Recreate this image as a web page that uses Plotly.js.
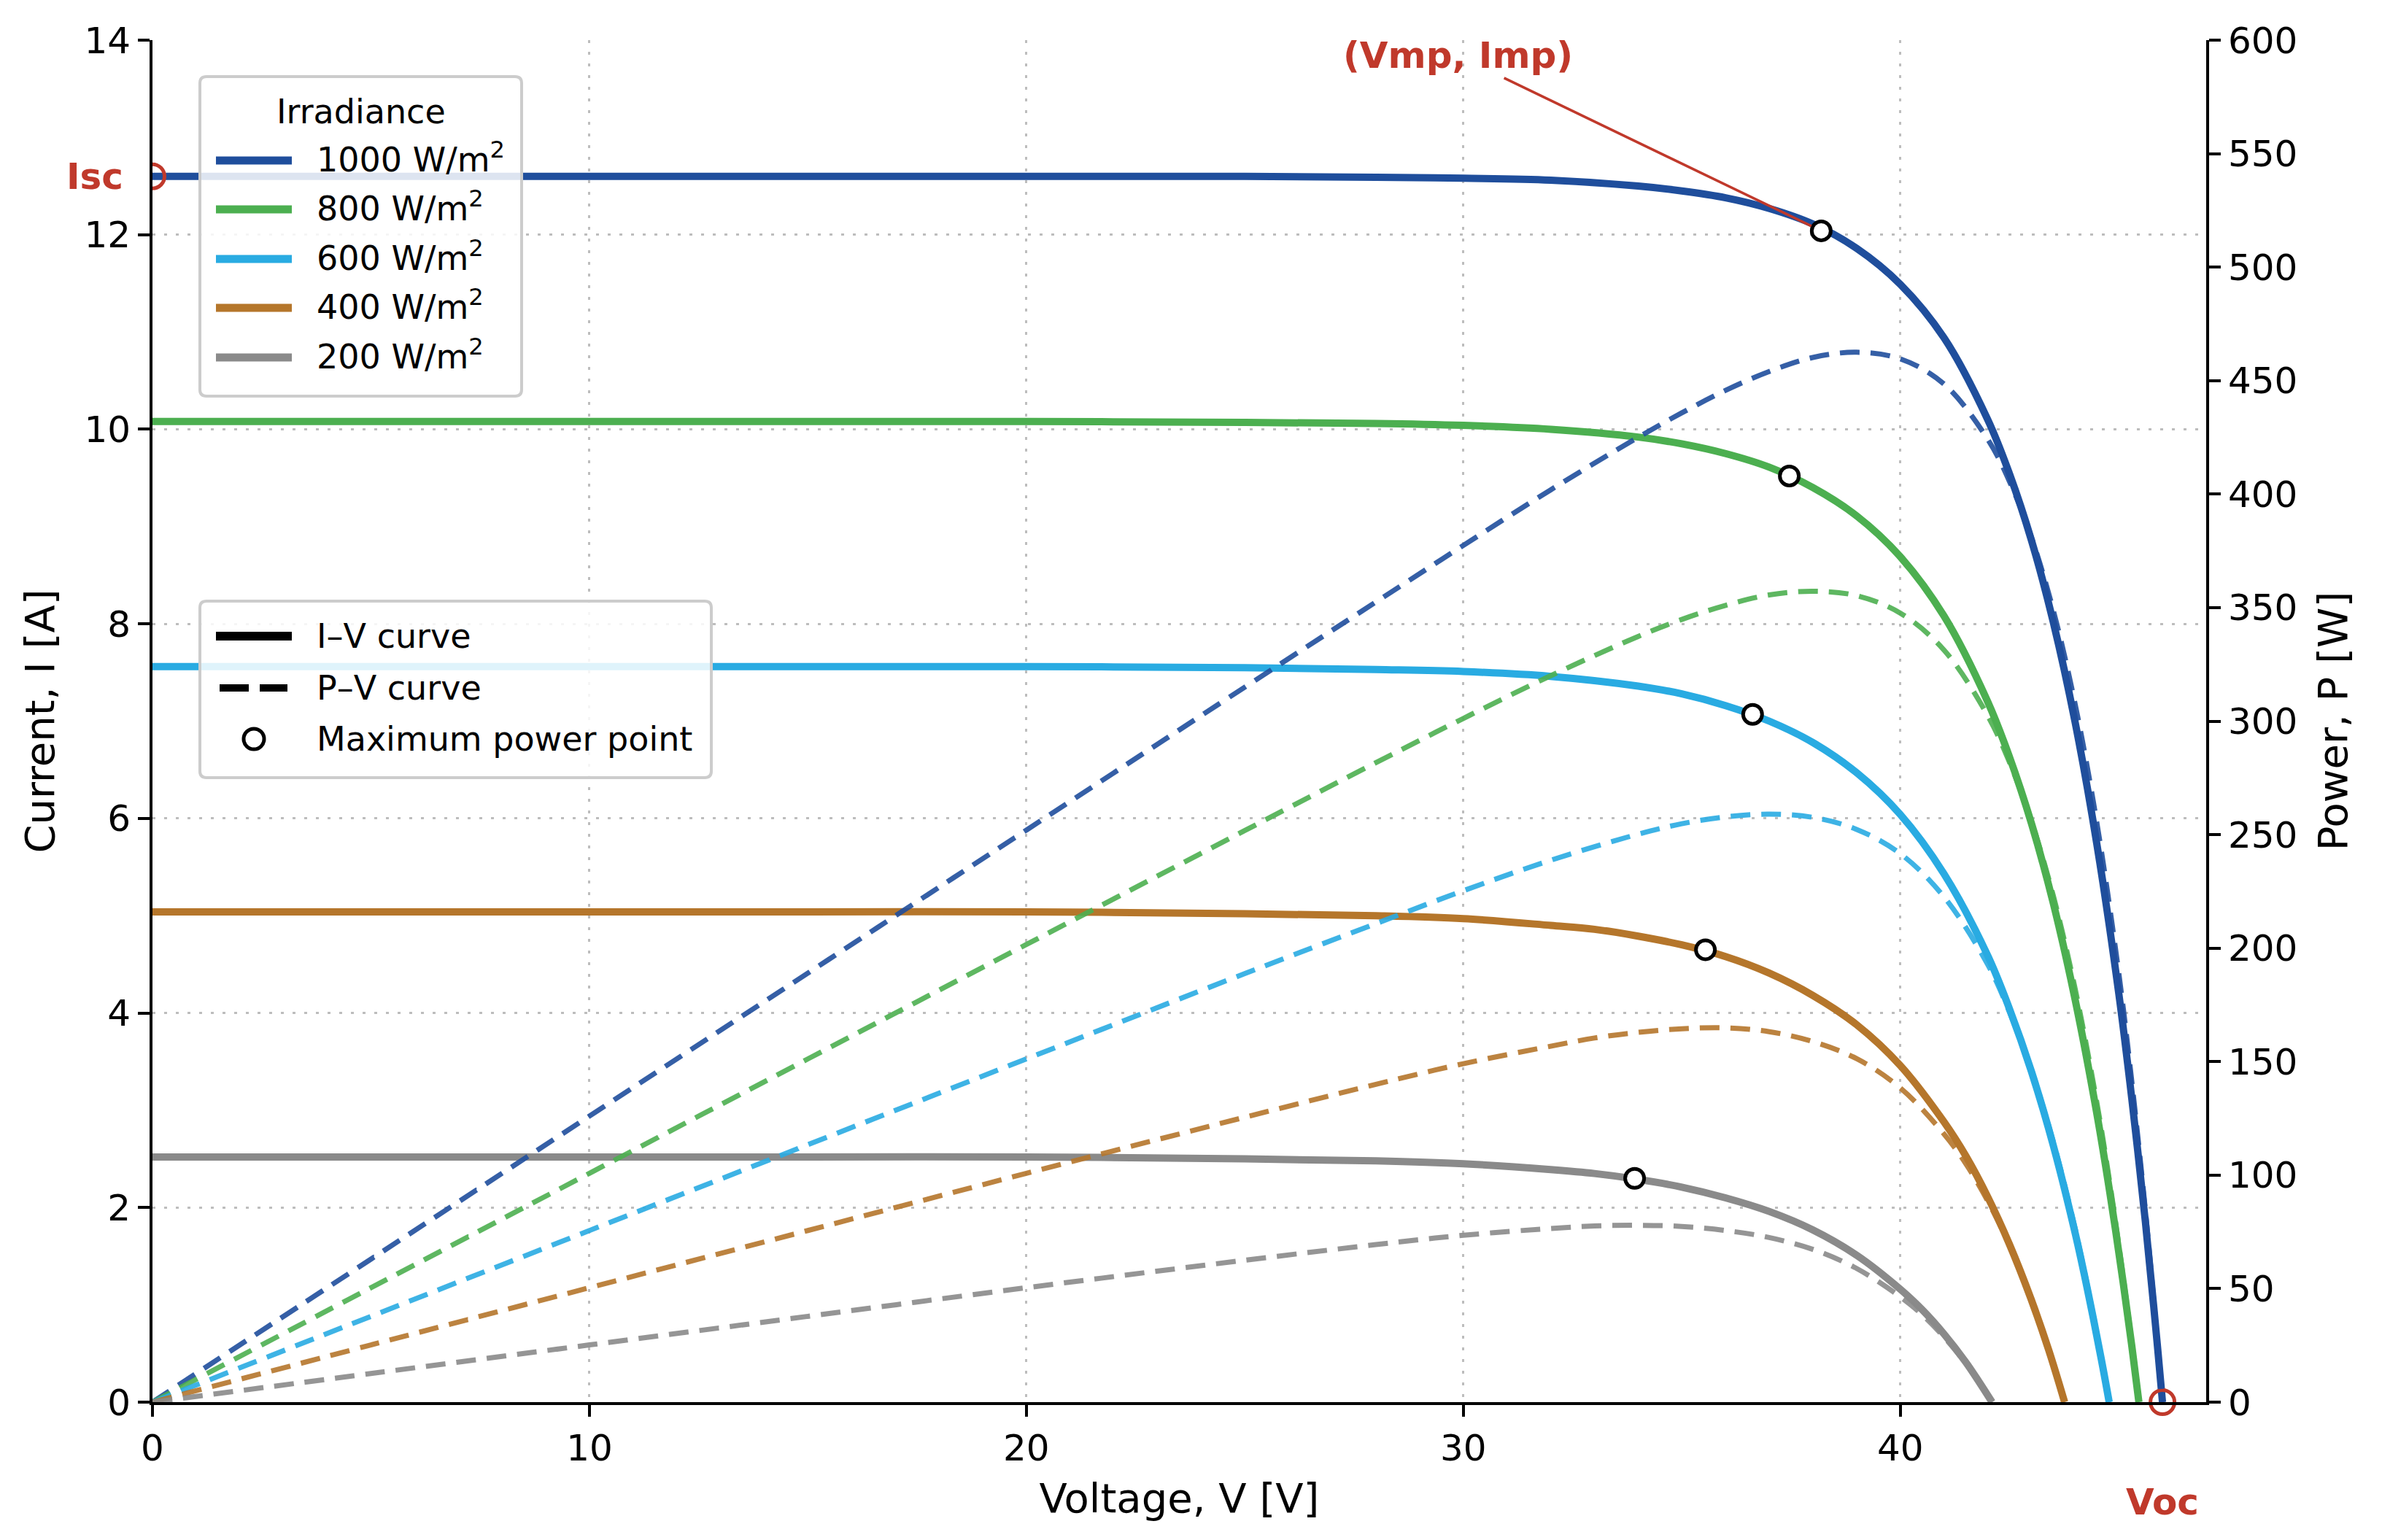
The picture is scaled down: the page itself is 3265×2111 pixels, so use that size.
<!DOCTYPE html>
<html><head><meta charset="utf-8">
<script src="https://cdn.plot.ly/plotly-3.0.1.min.js"></script>
<style>html,body{margin:0;padding:0;background:#fff}</style>
</head><body><div id="chart" style="width:3265px;height:2111px"></div>
<script>
// ---- data ----
const seriesLabels = ["1000 W/m<sup>2</sup>", "800 W/m<sup>2</sup>", "600 W/m<sup>2</sup>", "400 W/m<sup>2</sup>", "200 W/m<sup>2</sup>"];
const seriesColors = ["#1f4e9c", "#4caf50", "#29abe2", "#b5762b", "#8a8a8a"];
const legendTitle = "Irradiance";
const styleLabels = ["I–V curve", "P–V curve", "Maximum power point"];

const V1000 = [0,5,10,15,20,25,28,30,32,34,35,36,37,38,39,40,41,42,42.5,43,43.5,44,44.5,45,45.3,45.6,45.8,45.9,46.0];
const I1000 = [12.60,12.60,12.60,12.60,12.60,12.60,12.59,12.58,12.56,12.50,12.45,12.38,12.27,12.11,11.86,11.49,10.94,10.10,9.54,8.86,8.02,6.99,5.73,4.20,3.11,1.89,0.98,0.50,0];
const P1000 = [0,63.0,126.0,189.0,252.0,315.0,352.5,377.4,401.9,425.0,435.8,445.7,454.0,460.2,462.5,459.6,448.5,424.2,405.5,381.0,348.9,307.6,255.0,189.0,140.9,86.2,44.9,23.0,0];

const V800 = [0,5,10,15,20,25,28,30,32,34,35,36,37,38,39,40,41,42,42.5,43,43.5,44,44.5,44.8,45.1,45.3,45.46];
const I800 = [10.08,10.08,10.08,10.08,10.08,10.07,10.06,10.04,10.00,9.92,9.85,9.75,9.61,9.40,9.11,8.69,8.08,7.20,6.63,5.95,5.13,4.14,2.96,2.14,1.23,0.57,0];
const P800 = [0,50.4,100.8,151.2,201.6,251.8,281.7,301.2,320.0,337.3,344.8,351.0,355.6,357.2,355.3,347.6,331.3,302.4,281.8,255.9,223.2,182.2,131.7,95.9,55.5,25.8,0];

const V600 = [0,5,10,15,20,25,28,30,32,34,35,36,37,38,39,40,41,42,42.5,43,43.5,44,44.3,44.6,44.78];
const I600 = [7.56,7.56,7.56,7.56,7.56,7.55,7.53,7.51,7.46,7.36,7.28,7.16,7.00,6.78,6.47,6.04,5.43,4.59,4.04,3.40,2.64,1.74,1.12,0.44,0];
const P600 = [0,37.8,75.6,113.4,151.2,188.8,210.8,225.3,238.7,250.2,254.8,257.8,259.0,257.6,252.3,241.6,222.6,192.8,171.7,146.2,114.8,76.6,49.6,19.6,0];

const V400 = [0,5,10,15,20,25,28,30,32,33,34,35,36,37,38,39,40,41,41.5,42,42.5,43,43.4,43.76];
const I400 = [5.04,5.04,5.04,5.04,5.04,5.02,5.00,4.97,4.90,4.86,4.79,4.70,4.58,4.41,4.18,3.88,3.46,2.88,2.53,2.11,1.62,1.05,0.53,0];
const P400 = [0,25.2,50.4,75.6,100.8,125.5,140.0,149.1,156.8,160.4,162.9,164.5,164.9,163.2,158.8,151.3,138.4,118.1,105.0,88.6,68.9,45.2,23.0,0];

const V200 = [0,5,10,15,20,25,28,30,32,33,34,35,36,37,38,39,40,40.5,41,41.5,41.8,42.1];
const I200 = [2.52,2.52,2.52,2.52,2.52,2.50,2.48,2.45,2.39,2.35,2.29,2.21,2.10,1.96,1.77,1.51,1.16,0.95,0.70,0.41,0.21,0];
const P200 = [0,12.6,25.2,37.8,50.4,62.5,69.4,73.5,76.5,77.6,77.9,77.4,75.6,72.5,67.3,58.9,46.4,38.5,28.7,17.0,8.8,0];

const mppV = [38.19, 37.46, 36.62, 35.54, 33.92];
const mppI = [12.04, 9.52, 7.07, 4.65, 2.30];

const iscValue = 12.6;
const vocValue = 46.0;

const xTicks = [0, 10, 20, 30, 40];
const yTicks = [0, 2, 4, 6, 8, 10, 12, 14];
const y2Ticks = [0, 50, 100, 150, 200, 250, 300, 350, 400, 450, 500, 550, 600];

// ---- build ----
const Vs = [V1000, V800, V600, V400, V200];
const Is = [I1000, I800, I600, I400, I200];
const Ps = [P1000, P800, P600, P400, P200];
const RED = "#c0392b";
const FONT = "DejaVu Sans";

// plot area in pixels (for placing the hand-drawn legends)
const PL = 209, PR = 3024, PT = 55, PB = 1922;
const px = v => (v - PL) / (PR - PL);
const py = v => (PB - v) / (PB - PT);
const P = (x, y) => px(x).toFixed(5) + "," + py(y).toFixed(5);
function roundRect(x0, y0, x1, y1, r) {
  return "M" + P(x0 + r, y0) + " L" + P(x1 - r, y0) + " Q" + P(x1, y0) + " " + P(x1, y0 + r) +
    " L" + P(x1, y1 - r) + " Q" + P(x1, y1) + " " + P(x1 - r, y1) +
    " L" + P(x0 + r, y1) + " Q" + P(x0, y1) + " " + P(x0, y1 - r) +
    " L" + P(x0, y0 + r) + " Q" + P(x0, y0) + " " + P(x0 + r, y0) + " Z";
}

const traces = [];
for (let k = 0; k < 5; k++) {
  traces.push({
    x: Vs[k], y: Is[k], type: "scatter", mode: "lines", name: seriesLabels[k], showlegend: false,
    line: {color: seriesColors[k], width: 10, shape: "spline", smoothing: 1},
    hoverinfo: "skip"
  });
}
traces.push({
  x: mppV, y: mppI, type: "scatter", mode: "markers", showlegend: false, name: styleLabels[2],
  marker: {symbol: "circle", size: 26, color: "white", line: {color: "black", width: 5}},
  hoverinfo: "skip"
});
traces.push({
  x: [0], y: [iscValue], type: "scatter", mode: "markers", showlegend: false, cliponaxis: true,
  marker: {symbol: "circle", size: 33, color: "rgba(0,0,0,0)", line: {color: RED, width: 5}}, hoverinfo: "skip"
});
traces.push({
  x: [vocValue], y: [0], type: "scatter", mode: "markers", showlegend: false, cliponaxis: false,
  marker: {symbol: "circle", size: 33, color: "rgba(0,0,0,0)", line: {color: RED, width: 5}}, hoverinfo: "skip"
});
for (let k = 0; k < 5; k++) {
  traces.push({
    x: Vs[k], y: Ps[k], type: "scatter", mode: "lines", yaxis: "y2", showlegend: false, opacity: 0.9,
    line: {color: seriesColors[k], width: 7, dash: "27px,15px", shape: "spline", smoothing: 1},
    hoverinfo: "skip"
  });
}

// ---- legends drawn as shapes + annotations ----
const shapes = [];
const annotations = [];
const legBox = {fillcolor: "rgba(255,255,255,0.85)", line: {color: "#cccccc", width: 4}};
shapes.push(Object.assign({type: "path", xref: "paper", yref: "paper", layer: "above",
  path: roundRect(274, 105, 715, 543, 9)}, legBox));
annotations.push({xref: "paper", yref: "paper", x: px(495), y: py(153), xanchor: "center", yanchor: "middle",
  text: legendTitle, showarrow: false, font: {size: 46, family: FONT, color: "black"}});
const rowY = [220, 287, 355, 422, 490];
for (let k = 0; k < 5; k++) {
  shapes.push({type: "line", xref: "paper", yref: "paper", layer: "above",
    x0: px(296), x1: px(400), y0: py(rowY[k]), y1: py(rowY[k]),
    line: {color: seriesColors[k], width: 11}});
  annotations.push({xref: "paper", yref: "paper", x: px(432), y: py(rowY[k] - 4), xanchor: "left", yanchor: "middle",
    text: seriesLabels[k], showarrow: false, font: {size: 46, family: FONT, color: "black"}});
}
shapes.push(Object.assign({type: "path", xref: "paper", yref: "paper", layer: "above",
  path: roundRect(274, 824, 975, 1066, 9)}, legBox));
const row2Y = [872, 943, 1013];
shapes.push({type: "line", xref: "paper", yref: "paper", layer: "above",
  x0: px(296), x1: px(400), y0: py(row2Y[0]), y1: py(row2Y[0]), line: {color: "black", width: 12}});
shapes.push({type: "line", xref: "paper", yref: "paper", layer: "above",
  x0: px(301), x1: px(394), y0: py(row2Y[1]), y1: py(row2Y[1]), line: {color: "black", width: 10, dash: "40px,15px"}});
shapes.push({type: "circle", xref: "paper", yref: "paper", layer: "above",
  x0: px(334), x1: px(362), y0: py(row2Y[2] + 14), y1: py(row2Y[2] - 14),
  fillcolor: "white", line: {color: "black", width: 5}});
for (let k = 0; k < 3; k++) {
  annotations.push({xref: "paper", yref: "paper", x: px(432), y: py(row2Y[k]), xanchor: "left", yanchor: "middle",
    text: styleLabels[k], showarrow: false, font: {size: 46, family: FONT, color: "black"}});
}

annotations.push(
  {xref: "paper", x: 0, xanchor: "right", xshift: -38, yref: "y", y: iscValue, yanchor: "middle",
   text: "<b>Isc</b>", showarrow: false, font: {size: 50, color: RED, family: FONT}},
  {xref: "x", x: vocValue, xanchor: "center", yref: "paper", y: 0, yanchor: "middle", yshift: -137,
   text: "<b>Voc</b>", showarrow: false, font: {size: 50, color: RED, family: FONT}},
  {xref: "x", x: mppV[0], yref: "y", y: mppI[0], text: "<b>(Vmp, Imp)</b>",
   showarrow: true, arrowhead: 0, arrowwidth: 3.5, arrowcolor: RED, ax: -498, ay: -240, standoff: 15,
   font: {size: 50, color: RED, family: FONT}}
);

const axisCommon = {
  showline: true, linecolor: "black", linewidth: 4, ticks: "outside", ticklen: 16, tickwidth: 4,
  tickcolor: "black", zeroline: false, tickfont: {size: 50, color: "black", family: FONT},
  gridcolor: "#bdbdbd", gridwidth: 3, griddash: "4px,12px", automargin: false
};

const layout = {
  width: 3265, height: 2111,
  margin: {l: PL, r: 3265 - PR, t: PT, b: 2111 - PB},
  paper_bgcolor: "white", plot_bgcolor: "white",
  font: {family: FONT, color: "black"},
  showlegend: false,
  xaxis: Object.assign({}, axisCommon, {
    range: [0, 47], tickmode: "array", tickvals: xTicks, showgrid: true,
    title: {text: "Voltage, V [V]", font: {size: 56, family: FONT}, standoff: 22}
  }),
  yaxis: Object.assign({}, axisCommon, {
    range: [0, 14], tickmode: "array", tickvals: yTicks, showgrid: true,
    title: {text: "Current, I [A]", font: {size: 56, family: FONT}, standoff: 24}
  }),
  yaxis2: Object.assign({}, axisCommon, {
    range: [0, 600], tickmode: "array", tickvals: y2Ticks, showgrid: false,
    overlaying: "y", side: "right",
    title: {text: "Power, P [W]", font: {size: 56, family: FONT}, standoff: 30}
  }),
  shapes: shapes,
  annotations: annotations
};

Plotly.newPlot("chart", traces, layout, {displayModeBar: false, staticPlot: true});
</script>
</body></html>
